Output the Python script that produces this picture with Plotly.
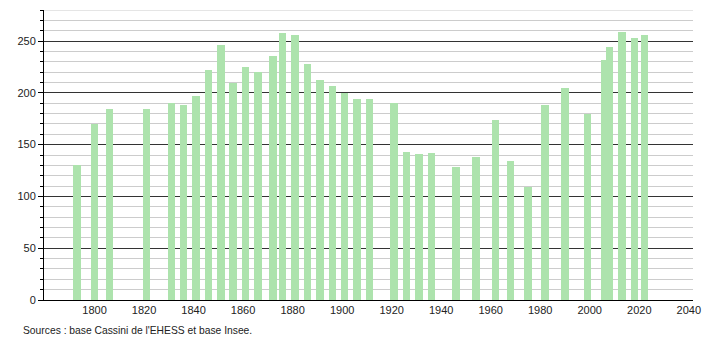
import plotly.graph_objects as go

years = [1793, 1800, 1806, 1821, 1831, 1836, 1841, 1846, 1851, 1856, 1861, 1866,
         1872, 1876, 1881, 1886, 1891, 1896, 1901, 1906, 1911, 1921, 1926, 1931,
         1936, 1946, 1954, 1962, 1968, 1975, 1982, 1990, 1999, 2006, 2008, 2013,
         2018, 2022]
population = [130, 170, 184, 184, 190, 188, 197, 222, 246, 210, 225, 220,
              236, 258, 256, 228, 212, 207, 200, 194, 194, 190, 143, 141,
              142, 128, 138, 174, 134, 109, 188, 205, 180, 232, 244, 259,
              253, 256]
x_ticks = [1800, 1820, 1840, 1860, 1880, 1900, 1920, 1940, 1960, 1980, 2000, 2020, 2040]
y_ticks = [0, 50, 100, 150, 200, 250]
source_text = "Sources : base Cassini de l'EHESS et base Insee."

fig = go.Figure()
fig.add_trace(go.Bar(
    x=years, y=population, width=3,
    marker=dict(color="#ade3ad", line=dict(width=0)),
    hoverinfo="x+y",
))

font = dict(family="Liberation Sans, Arial, sans-serif", size=11, color="#222")

fig.update_layout(
    width=710, height=340,
    margin=dict(l=44, r=9, t=10, b=40),
    paper_bgcolor="white", plot_bgcolor="white",
    showlegend=False,
    font=font,
    bargap=0,
    xaxis=dict(
        range=[1779.6, 2041.7],
        tickmode="array", tickvals=x_ticks, ticktext=[str(v) for v in x_ticks],
        showgrid=False, zeroline=False,
        showline=True, linecolor="#000", linewidth=1,
        ticks="", tickfont=font,
    ),
    yaxis=dict(
        range=[0, 280],
        tickmode="array", tickvals=y_ticks,
        showgrid=True, gridcolor="#333", gridwidth=1,
        zeroline=False,
        showline=True, linecolor="#000", linewidth=1,
        ticks="outside", ticklen=5, tickcolor="#000", tickwidth=1,
        tickfont=font,
        minor=dict(dtick=10, tick0=0, showgrid=True, gridcolor="#cccccc",
                   gridwidth=1, ticks="outside", ticklen=3, tickcolor="#000"),
    ),
    annotations=[dict(
        text=source_text, xref="paper", yref="paper",
        x=-0.036, y=-0.079, xanchor="left", yanchor="top",
        showarrow=False, font=dict(family=font["family"], size=10.3, color="#222"),
    )],
)
# top light gridline at 280
fig.add_shape(type="line", xref="paper", yref="y", x0=0, x1=1, y0=280, y1=280,
              line=dict(color="#cccccc", width=1), layer="below")

fig.write_html("out.html")
